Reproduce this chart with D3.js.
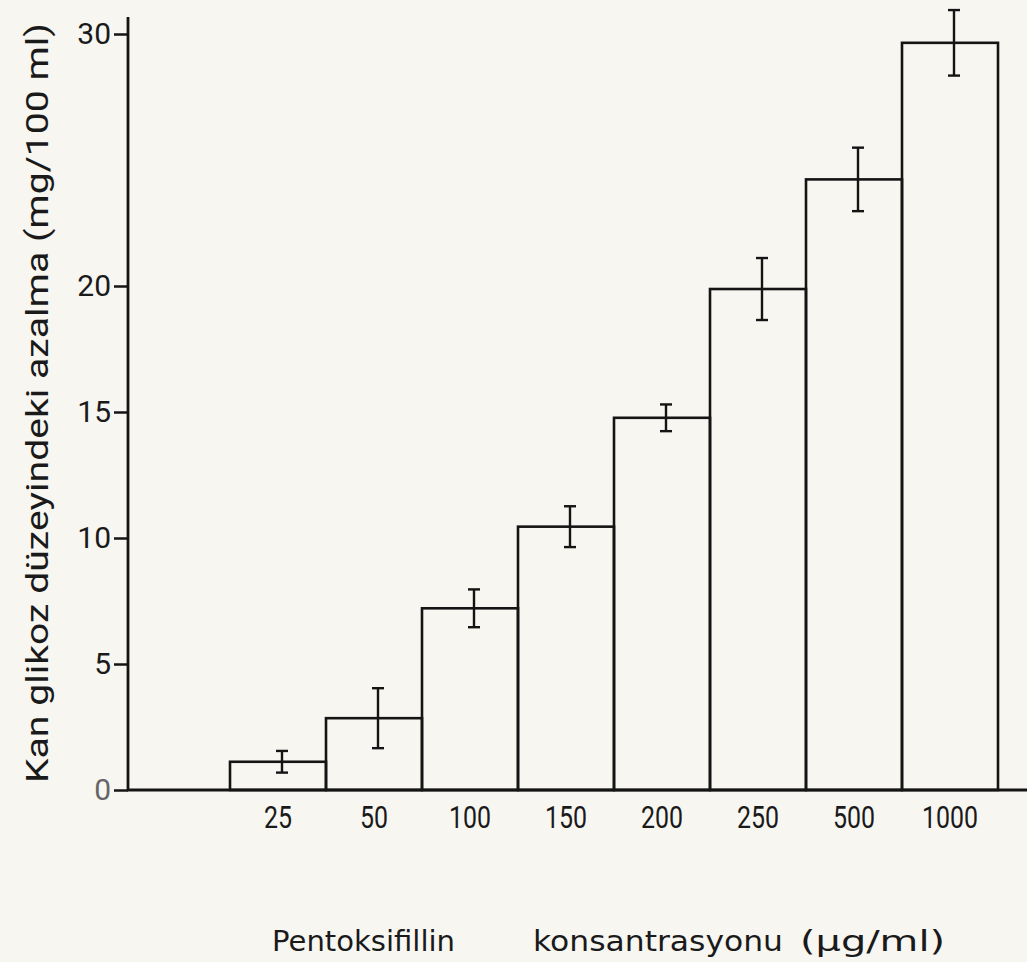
<!DOCTYPE html>
<html>
<head>
<meta charset="utf-8">
<script src="https://cdn.jsdelivr.net/npm/d3@7"></script>
<style>
  html, body { margin: 0; padding: 0; background: #f7f6f1; }
  svg { display: block; }
  text { fill: #1a1a1a; font-family: "Liberation Sans Narrow", "Roboto", "Liberation Sans", sans-serif; }
</style>
</head>
<body>
<div id="chart"></div>
<script>
// Pentoxifylline concentration (ug/ml) vs decrease in blood glucose (mg/100 ml)
const concentrations = ["25", "50", "100", "150", "200", "250", "500", "1000"];
const decrease = [1.12, 2.85, 7.21, 10.45, 14.77, 19.88, 24.23, 29.65];
const errors = [0.43, 1.19, 0.75, 0.81, 0.53, 1.23, 1.26, 1.3];
const yTicks = [0, 5, 10, 15, 20, 30];

const data = concentrations.map((c, i) => ({ conc: c, value: decrease[i], err: errors[i] }));

const width = 1027, height = 962;
const ink = "#141414";

const svg = d3.select("#chart")
    .append("svg")
    .attr("width", width)
    .attr("height", height);

// first band is left empty (control position without a label)
const x = d3.scaleBand()
    .domain([""].concat(concentrations))
    .range([134, 998])
    .padding(0);

const y = d3.scaleLinear()
    .domain([0, 30])
    .range([790, 34]);

// y axis
const yAxis = svg.append("g")
    .attr("transform", "translate(128,0)")
    .call(d3.axisLeft(y).tickValues(yTicks).tickSize(14).tickPadding(3).tickFormat(d3.format("d")));
yAxis.select(".domain").remove();
yAxis.selectAll(".tick line").attr("stroke", ink).attr("stroke-width", 2.5);
yAxis.selectAll(".tick text")
    .attr("font-size", 30)
    .style("fill", d => d === 0 ? "#666" : "#1a1a1a");

svg.append("line")
    .attr("x1", 128).attr("x2", 128)
    .attr("y1", y(0) + 1).attr("y2", 17)
    .attr("stroke", ink).attr("stroke-width", 2.8);

// bars
svg.selectAll("rect.bar")
    .data(data)
    .enter()
    .append("rect")
    .attr("class", "bar")
    .attr("x", d => x(d.conc))
    .attr("y", d => y(d.value))
    .attr("width", x.bandwidth())
    .attr("height", d => y(0) - y(d.value))
    .attr("fill", "none")
    .attr("stroke", ink)
    .attr("stroke-width", 2.6);

// error bars
const eb = svg.selectAll("g.err")
    .data(data)
    .enter()
    .append("g")
    .attr("class", "err")
    .attr("stroke", ink)
    .attr("stroke-width", 2.4);

eb.append("line")
    .attr("x1", d => x(d.conc) + x.bandwidth() / 2 + 4)
    .attr("x2", d => x(d.conc) + x.bandwidth() / 2 + 4)
    .attr("y1", d => y(d.value + d.err))
    .attr("y2", d => y(d.value - d.err));
eb.append("line")
    .attr("x1", d => x(d.conc) + x.bandwidth() / 2 - 2)
    .attr("x2", d => x(d.conc) + x.bandwidth() / 2 + 10)
    .attr("y1", d => y(d.value + d.err))
    .attr("y2", d => y(d.value + d.err));
eb.append("line")
    .attr("x1", d => x(d.conc) + x.bandwidth() / 2 - 2)
    .attr("x2", d => x(d.conc) + x.bandwidth() / 2 + 10)
    .attr("y1", d => y(d.value - d.err))
    .attr("y2", d => y(d.value - d.err));

// x axis (baseline runs to the right edge)
const xAxis = svg.append("g")
    .attr("transform", "translate(0," + y(0) + ")")
    .call(d3.axisBottom(x).tickSize(0).tickPadding(16));
xAxis.select(".domain").remove();
xAxis.selectAll(".tick text")
    .attr("font-size", 31)
    .attr("textLength", d => d.length * 14)
    .attr("lengthAdjust", "spacingAndGlyphs");

svg.append("line")
    .attr("x1", 127).attr("x2", width)
    .attr("y1", y(0)).attr("y2", y(0))
    .attr("stroke", ink).attr("stroke-width", 2.8);

// axis titles
svg.append("text")
    .attr("transform", "translate(48," + 403 + ") rotate(-90)")
    .attr("text-anchor", "middle")
    .attr("font-size", 32)
    .attr("textLength", 760)
    .attr("lengthAdjust", "spacingAndGlyphs")
    .text("Kan glikoz düzeyindeki azalma (mg/100 ml)");

const xTitle = [
    { t: "Pentoksifillin", x0: 272, len: 183 },
    { t: "konsantrasyonu", x0: 533, len: 250 },
    { t: "(µg/ml)", x0: 800, len: 145 }
];
svg.selectAll("text.xtitle")
    .data(xTitle)
    .enter()
    .append("text")
    .attr("class", "xtitle")
    .attr("x", d => d.x0)
    .attr("y", 951)
    .attr("font-size", 29)
    .attr("textLength", d => d.len)
    .attr("lengthAdjust", "spacingAndGlyphs")
    .style("font-family", "'DejaVu Sans', sans-serif")
    .text(d => d.t);
</script>
</body>
</html>
